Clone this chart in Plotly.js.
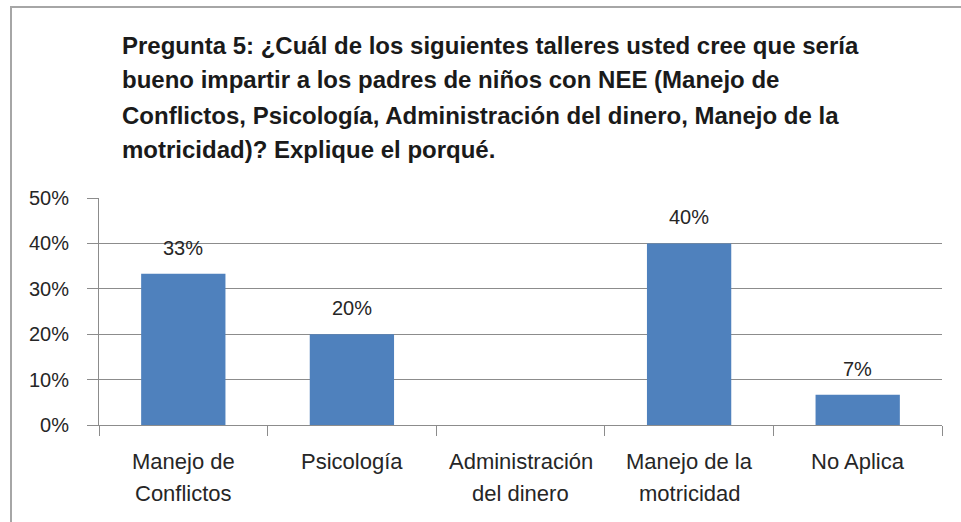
<!DOCTYPE html>
<html>
<head>
<meta charset="utf-8">
<script src="https://cdn.plot.ly/plotly-3.0.1.min.js"></script>
<style>
  body { margin: 0; background: #fff; }
  #myDiv { width: 961px; height: 522px; }
</style>
</head>
<body>
<div id="myDiv"></div>
<script>
var titleLines = [
  'Pregunta 5: ¿Cuál de los siguientes talleres usted cree que sería',
  'bueno impartir a los padres de niños con NEE (Manejo de',
  'Conflictos, Psicología, Administración del dinero, Manejo de la',
  'motricidad)? Explique el porqué.'
];
var categories = ['Manejo de<br>Conflictos', 'Psicología', 'Administración<br>del dinero', 'Manejo de la<br>motricidad', 'No Aplica'];
var values = [0.3333, 0.20, 0, 0.40, 0.0667];
var yTicks = [0, 0.1, 0.2, 0.3, 0.4, 0.5];
var yTickText = ['0%', '10%', '20%', '30%', '40%', '50%'];

var font = 'Liberation Sans, Arial, sans-serif';
var gray = '#8c8c8c';
var ink = '#262626';

var trace = {
  x: categories,
  y: values,
  type: 'bar',
  marker: { color: '#4f81bd' },
  hoverinfo: 'none'
};

var annotations = [];

// value labels above the bars (none for zero)
values.forEach(function (v, i) {
  if (v > 0) {
    annotations.push({
      x: categories[i], y: v, xref: 'x', yref: 'y',
      text: Math.round(v * 100) + '%',
      showarrow: false, yanchor: 'middle', yshift: 26,
      font: { family: font, size: 20, color: ink }
    });
  }
});

// category labels, one annotation per line to keep the wide line spacing
categories.forEach(function (c) {
  c.split('<br>').forEach(function (line, j) {
    annotations.push({
      x: c, y: 0, xref: 'x', yref: 'paper',
      text: line, showarrow: false, yanchor: 'middle',
      yshift: -36 - j * 32,
      font: { family: font, size: 22, color: ink }
    });
  });
});

// title lines
titleLines.forEach(function (t, k) {
  annotations.push({
    x: 120, y: 45 + k * 35, xref: 'paper', yref: 'paper',
    text: '<b>' + t + '</b>', showarrow: false,
    xanchor: 'left', yanchor: 'middle',
    font: { family: font, size: 24, color: '#1a1a1a' }
  });
});

// convert title pixel positions to paper coords
var L = 99, R = 19, T = 198, B = 97, W = 961, H = 522;
var pw = W - L - R, ph = H - T - B;
annotations.forEach(function (a) {
  if (a.xref === 'paper' && a.yref === 'paper') {
    a.x = (a.x - L) / pw;
    a.y = (H - B - a.y) / ph;
  }
});

var layout = {
  width: W,
  height: H,
  margin: { l: L, r: R, t: T, b: B, pad: 0 },
  paper_bgcolor: '#fff',
  plot_bgcolor: '#fff',
  showlegend: false,
  bargap: 0.5,
  font: { family: font, size: 20, color: ink },
  xaxis: {
    type: 'category',
    showticklabels: false,
    showgrid: false,
    showline: true,
    linecolor: gray,
    linewidth: 1,
    ticks: 'outside',
    tickson: 'boundaries',
    ticklen: 10,
    tickcolor: gray,
    fixedrange: true
  },
  yaxis: {
    range: [0, 0.5],
    tickvals: yTicks,
    ticktext: yTickText,
    showgrid: true,
    gridcolor: gray,
    gridwidth: 1,
    showline: true,
    linecolor: gray,
    ticks: 'outside',
    ticklen: 11,
    tickcolor: gray,
    ticklabelstandoff: 14,
    zeroline: false,
    tickfont: { family: font, size: 20, color: ink },
    fixedrange: true
  },
  annotations: annotations,
  shapes: [
    {
      type: 'line', xref: 'paper', yref: 'paper',
      x0: (11 - L) / pw, x1: (W - L) / pw,
      y0: (H - B - 7) / ph, y1: (H - B - 7) / ph,
      line: { color: '#a6a6a6', width: 2 }
    },
    {
      type: 'line', xref: 'paper', yref: 'paper',
      x0: (11 - L) / pw, x1: (11 - L) / pw,
      y0: (H - B - 6) / ph, y1: (H - B - H) / ph,
      line: { color: '#a6a6a6', width: 2 }
    }
  ]
};

Plotly.newPlot('myDiv', [trace], layout, { displayModeBar: false, staticPlot: true });
</script>
</body>
</html>
